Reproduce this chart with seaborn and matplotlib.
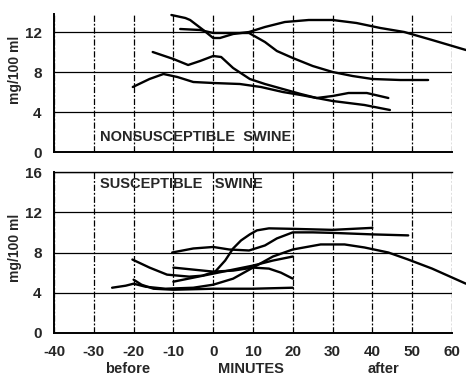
import numpy as np
import pandas as pd
import seaborn as sns
import matplotlib
matplotlib.use("Agg")
import matplotlib.pyplot as plt

# Nonsusceptible swine: one array pair per animal curve (minutes, mg/100 ml)
ns1_x = [-10.5, -7, -5.8, -2.5, 0, 1.7, 5, 9, 13, 18, 24, 30, 36, 42, 48, 55, 63.5]
ns1_y = [13.7, 13.4, 13.2, 12.2, 11.4, 11.4, 11.8, 12.0, 12.5, 13.0, 13.2, 13.2, 12.9, 12.4, 12.0, 11.2, 10.2]
ns2_x = [-8.3, -3.3, 0, 5, 9, 13, 16, 20, 25, 30, 35, 40, 47, 54]
ns2_y = [12.3, 12.2, 11.9, 11.9, 11.9, 11.0, 10.1, 9.4, 8.6, 8.0, 7.6, 7.3, 7.2, 7.2]
ns3_x = [-15.2, -10, -6.3, -3.3, 0, 2, 5, 9.2, 13, 17.5, 22, 26, 30, 34, 38, 44.4]
ns3_y = [10.0, 9.3, 8.7, 9.1, 9.6, 9.5, 8.4, 7.3, 6.8, 6.3, 5.8, 5.4, 5.1, 4.9, 4.7, 4.2]
ns4_x = [-20.2, -16, -12.5, -9, -5, 0, 6.7, 12, 17.5, 22, 26, 30, 34, 38.6, 44]
ns4_y = [6.5, 7.3, 7.8, 7.5, 7.0, 6.9, 6.8, 6.5, 6.0, 5.7, 5.4, 5.6, 5.9, 5.9, 5.4]

# Susceptible swine
s1_x = [-10.3, -5, 0, 4, 9, 13, 16, 20, 25, 30, 40, 49]
s1_y = [8.0, 8.4, 8.55, 8.3, 8.2, 8.7, 9.4, 10.0, 10.0, 9.95, 9.8, 9.7]
s2_x = [-20.3, -16, -11.6, -6, -2.7, 0.5, 3, 5, 7, 9.2, 11, 14, 20, 30, 40]
s2_y = [7.3, 6.5, 5.8, 5.6, 5.7, 6.1, 7.2, 8.4, 9.2, 9.8, 10.2, 10.4, 10.35, 10.25, 10.45]
s3_x = [-10, -5, 0, 5, 10, 14, 17, 20]
s3_y = [6.5, 6.3, 6.1, 6.2, 6.5, 6.4, 6.0, 5.4]
s4_x = [-10, -5, 0, 5, 10, 15, 20]
s4_y = [5.1, 5.5, 5.9, 6.3, 6.7, 7.2, 7.6]
s5_x = [-25.4, -22, -20, -17, -12, -5, 0, 5, 10, 15, 20, 27, 33, 38, 44, 49, 55, 63.5]
s5_y = [4.5, 4.7, 4.9, 4.6, 4.4, 4.5, 4.8, 5.4, 6.5, 7.6, 8.3, 8.8, 8.8, 8.5, 8.0, 7.3, 6.4, 4.9]
s6_x = [-20, -18, -15, -10, 0, 10, 20]
s6_y = [5.3, 4.8, 4.4, 4.3, 4.4, 4.4, 4.5]

x_ticks = [-40, -30, -20, -10, 0, 10, 20, 30, 40, 50, 60]


def long_frame(curves):
    rows = []
    for i, (xs, ys) in enumerate(curves):
        for x, y in zip(xs, ys):
            rows.append({"curve": i, "minutes": x, "mg": y})
    return pd.DataFrame(rows)


df_top = long_frame([(ns1_x, ns1_y), (ns2_x, ns2_y), (ns3_x, ns3_y), (ns4_x, ns4_y)])
df_bot = long_frame([(s1_x, s1_y), (s2_x, s2_y), (s3_x, s3_y), (s4_x, s4_y),
                     (s5_x, s5_y), (s6_x, s6_y)])

sns.set_style("white")
plt.rcParams["font.family"] = ["Liberation Sans", "DejaVu Sans"]
plt.rcParams["axes.unicode_minus"] = False

fig = plt.figure(figsize=(4.66, 3.76), dpi=100)
W, H = 466.0, 376.0
ax_top = fig.add_axes([54 / W, 1 - 152 / H, 398 / W, 138 / H])
ax_bot = fig.add_axes([54 / W, 1 - 333 / H, 398 / W, 161 / H])


def style_axis(ax, ylim, yticks, top_spine):
    ax.set_xlim(-40, 60)
    ax.set_ylim(*ylim)
    ax.set_xticks(x_ticks)
    ax.set_yticks(yticks)
    ax.grid(axis="x", color="black", lw=0.9, ls=(0, (5, 1.5, 1.5, 1.5)))
    ax.grid(axis="y", color="black", lw=0.9, ls="-")
    ax.set_axisbelow(True)
    for s in ["left", "bottom"]:
        ax.spines[s].set_color("black")
        ax.spines[s].set_linewidth(1.4)
    ax.spines["right"].set_visible(False)
    ax.spines["top"].set_visible(top_spine)
    ax.spines["top"].set_color("black")
    ax.spines["top"].set_linewidth(1.0)
    ax.tick_params(length=0, pad=9, labelsize=11)
    for lab in ax.get_xticklabels() + ax.get_yticklabels():
        lab.set_fontweight("bold")
    ax.set_xlabel("")
    ax.set_ylabel("")


sns.lineplot(data=df_top, x="minutes", y="mg", units="curve", estimator=None,
             sort=False, color="black", lw=1.7, ax=ax_top)
sns.lineplot(data=df_bot, x="minutes", y="mg", units="curve", estimator=None,
             sort=False, color="black", lw=1.7, ax=ax_bot)
for ax in (ax_top, ax_bot):
    for ln in ax.lines:
        ln.set_clip_on(False)

style_axis(ax_top, (0, 13.8), [0, 4, 8, 12], False)
style_axis(ax_bot, (0, 16), [0, 4, 8, 12, 16], True)
ax_top.tick_params(axis="x", labelbottom=False)

fig.text(100 / W, 1 - 137 / H, "NONSUSCEPTIBLE  SWINE", fontsize=10.5,
         fontweight="bold", va="center")
fig.text(100 / W, 1 - 184 / H, "SUSCEPTIBLE   SWINE", fontsize=10.5,
         fontweight="bold", va="center")

fig.text(15 / W, 1 - 70 / H, "mg/100 ml", rotation=90, fontsize=10,
         fontweight="bold", ha="center", va="center")
fig.text(15 / W, 1 - 248 / H, "mg/100 ml", rotation=90, fontsize=10,
         fontweight="bold", ha="center", va="center")

fig.text(128 / W, 1 - 369 / H, "before", fontsize=10.5, fontweight="bold",
         ha="center", va="center")
fig.text(251 / W, 1 - 369 / H, "MINUTES", fontsize=10.5, fontweight="bold",
         ha="center", va="center")
fig.text(383 / W, 1 - 369 / H, "after", fontsize=10.5, fontweight="bold",
         ha="center", va="center")

fig.savefig("out.png", dpi=100)
